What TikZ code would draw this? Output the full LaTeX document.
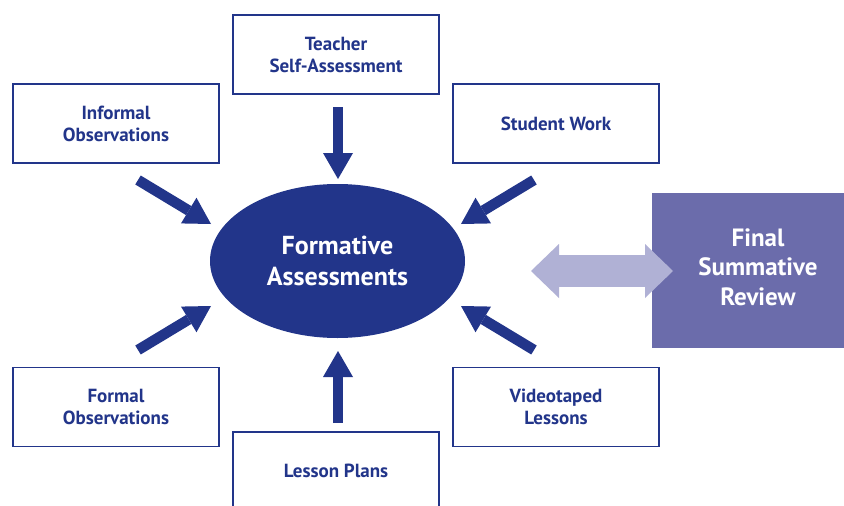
\documentclass[tikz,border=0pt]{standalone}
\usepackage{fontspec}
\setmainfont{PT Sans}
\usetikzlibrary{arrows.meta,shapes.geometric}
\definecolor{navy}{HTML}{22358A}
\definecolor{purp}{HTML}{6B6CAB}
\definecolor{lilac}{HTML}{B0B1D5}
\begin{document}
\begin{tikzpicture}[x=1pt,y=-1pt,
  srcbox/.style={draw=navy, line width=1.4pt, fill=white, minimum width=206pt,
    minimum height=79pt, inner sep=0pt, align=center, text=navy,
    font=\fontsize{19}{22}\selectfont\bfseries},
  bigarrow/.style={draw=navy, line width=10.5pt,
    -{Triangle[length=26pt,width=30pt,line width=0pt]}},
  dblarrow/.style={draw=lilac, line width=32pt,
    {Triangle[length=28pt,width=54pt,line width=0pt]}-{Triangle[length=28pt,width=54pt,line width=0pt]}},
  hub/.style={ellipse, fill=navy, minimum width=255pt, minimum height=154pt,
    inner sep=0pt, align=center, text=white,
    font=\fontsize{26}{31}\selectfont\bfseries},
  finalbox/.style={fill=purp, minimum width=212pt, minimum height=155pt,
    inner sep=0pt, align=center, text=white,
    font=\fontsize{25}{29.5}\selectfont\bfseries}
]
\useasboundingbox (0,0) rectangle (844,506);
\clip (0,0) rectangle (844,506);
\fill[white] (0,0) rectangle (844,506);

% nodes
\node[srcbox] (teacher) at (336,54.5) {Teacher\\Self-Assessment};
\node[srcbox] (informal) at (116,123.5) {Informal\\Observations};
\node[srcbox] (student) at (556,123.5) {Student Work};
\node[srcbox] (formal) at (116,407) {Formal\\Observations};
\node[srcbox] (video) at (556,407) {Videotaped\\Lessons};
\node[srcbox, minimum height=78pt] (lesson) at (336,471) {Lesson Plans};
\node[hub] (hub) at (337.5,261) {Formative\\Assessments};
\node[finalbox] (final) at (758,270.5) {};
\node[align=center, text=white, font=\fontsize{25}{29.5}\selectfont\bfseries]
  (finaltext) at (758,267) {Final\\Summative\\Review};

% arrow end points
\coordinate (teacherT) at (338,107);  \coordinate (teacherH) at (338,179);
\coordinate (lessonT) at (338,423);   \coordinate (lessonH) at (338,351);
\coordinate (informalT) at (138,180); \coordinate (informalH) at (211,224);
\coordinate (studentT) at (534,180);  \coordinate (studentH) at (461,224);
\coordinate (formalT) at (138,350);   \coordinate (formalH) at (211,306);
\coordinate (videoT) at (534,350);    \coordinate (videoH) at (461,306);
\coordinate (dblL) at (531,271);      \coordinate (dblR) at (673,271);

% connectors
\draw[bigarrow] (teacherT) -- (teacherH);
\draw[bigarrow] (lessonT) -- (lessonH);
\draw[bigarrow] (informalT) -- (informalH);
\draw[bigarrow] (studentT) -- (studentH);
\draw[bigarrow] (formalT) -- (formalH);
\draw[bigarrow] (videoT) -- (videoH);
\draw[dblarrow] (dblL) -- (dblR);
\end{tikzpicture}
\end{document}
